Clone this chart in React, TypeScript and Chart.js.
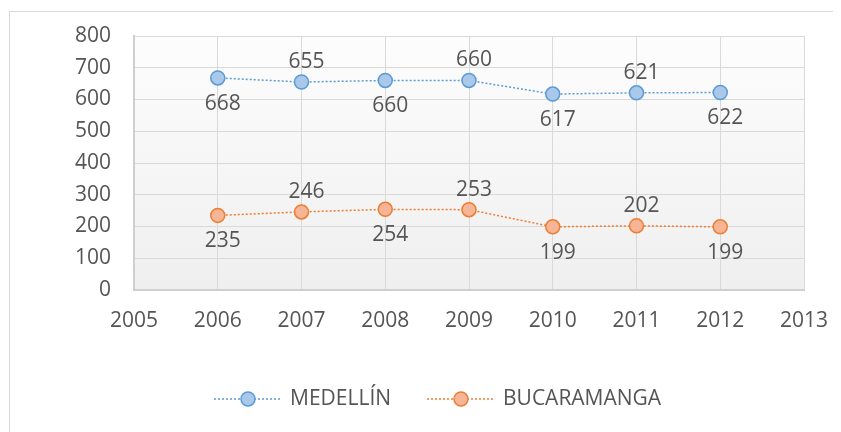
import React, { useEffect, useRef } from "react";
import { Chart, registerables } from "chart.js";

Chart.register(...registerables);

const years = [2006, 2007, 2008, 2009, 2010, 2011, 2012];
const medellin = [668, 655, 660, 660, 617, 621, 622];
const bucaramanga = [235, 246, 254, 253, 199, 202, 199];
const seriesNames = ["MEDELLÍN", "BUCARAMANGA"];
const xMin = 2005;
const xMax = 2013;
const yMin = 0;
const yMax = 800;
const yStep = 100;

const FONT = "'Open Sans', 'Noto Sans', sans-serif";
const FS = 21;
const TEXT = "#555555";
const BLUE = "#5B9BD5";
const BLUE_FILL = "#A9C8EA";
const ORANGE = "#ED7D31";
const ORANGE_FILL = "#F5B596";

const styles = [
  { line: BLUE, fill: BLUE_FILL },
  { line: ORANGE, fill: ORANGE_FILL },
];

const bgPlugin = {
  id: "bgPlugin",
  beforeDraw(chart: any) {
    const { ctx, chartArea, width, height } = chart;
    ctx.save();
    ctx.fillStyle = "#ffffff";
    ctx.fillRect(0, 0, width, height);
    ctx.strokeStyle = "#d9d9d9";
    ctx.lineWidth = 1;
    ctx.strokeRect(1.5, 3.5, width + 10, height + 10);
    const g = ctx.createLinearGradient(0, chartArea.top, 0, chartArea.bottom);
    g.addColorStop(0, "#fdfdfd");
    g.addColorStop(1, "#efefef");
    ctx.fillStyle = g;
    ctx.fillRect(chartArea.left, chartArea.top, chartArea.right - chartArea.left, chartArea.bottom - chartArea.top);
    ctx.restore();
  },
  afterDatasetsDraw(chart: any) {
    const { ctx } = chart;
    ctx.save();
    ctx.font = `${FS}px ${FONT}`;
    ctx.fillStyle = TEXT;
    ctx.textAlign = "center";
    ctx.textBaseline = "middle";
    chart.data.datasets.forEach((ds: any, di: number) => {
      const meta = chart.getDatasetMeta(di);
      meta.data.forEach((pt: any, i: number) => {
        const above = i % 2 === 1;
        const y = above ? pt.y - 20 : pt.y + 26;
        ctx.fillText(String(ds.data[i].y), pt.x + 5, y);
      });
    });
    // legend
    const cy = 391;
    const items = [
      { x: 206, label: seriesNames[0], s: styles[0] },
      { x: 419, label: seriesNames[1], s: styles[1] },
    ];
    items.forEach((it) => {
      ctx.strokeStyle = it.s.line;
      ctx.lineWidth = 1.5;
      ctx.setLineDash([2, 2]);
      ctx.beginPath();
      ctx.moveTo(it.x, cy);
      ctx.lineTo(it.x + 68, cy);
      ctx.stroke();
      ctx.setLineDash([]);
      ctx.beginPath();
      ctx.arc(it.x + 34, cy, 7, 0, Math.PI * 2);
      ctx.fillStyle = it.s.fill;
      ctx.fill();
      ctx.lineWidth = 1.5;
      ctx.strokeStyle = it.s.line;
      ctx.stroke();
      ctx.fillStyle = TEXT;
      ctx.textAlign = "left";
      ctx.fillText(it.label, it.x + 76, cy);
    });
    ctx.restore();
  },
};

export default function App() {
  const ref = useRef<HTMLCanvasElement>(null);
  useEffect(() => {
    if (!ref.current) return;
    const mk = (vals: number[], idx: number, label: string) => ({
      label,
      data: years.map((x, i) => ({ x, y: vals[i] })),
      borderColor: styles[idx].line,
      backgroundColor: styles[idx].fill,
      borderWidth: 1.5,
      borderDash: [2, 2],
      pointRadius: 7,
      pointBorderWidth: 1.5,
      pointBorderColor: styles[idx].line,
      pointBackgroundColor: styles[idx].fill,
      tension: 0,
    });
    const chart = new Chart(ref.current, {
      type: "line",
      data: {
        datasets: [mk(medellin, 0, seriesNames[0]), mk(bucaramanga, 1, seriesNames[1])],
      },
      options: {
        animation: false,
        responsive: false,
        maintainAspectRatio: false,
        devicePixelRatio: 1,
        layout: { padding: { left: 0, right: 37, top: 28, bottom: 0 } },
        plugins: { legend: { display: false }, tooltip: { enabled: false } },
        scales: {
          x: {
            type: "linear",
            min: xMin,
            max: xMax,
            ticks: {
              stepSize: 1,
              padding: 18,
              color: TEXT,
              font: { family: FONT, size: FS },
              callback: (v: any) => String(v),
            },
            grid: { color: "#d9d9d9", drawTicks: false, lineWidth: 1 },
            border: { color: "#cfcfcf", width: 2 },
            afterFit: (s: any) => {
              s.height = 142;
              s.paddingLeft = 0;
              s.paddingRight = 0;
            },
          },
          y: {
            min: yMin,
            max: yMax,
            ticks: {
              stepSize: yStep,
              padding: 23,
              color: TEXT,
              font: { family: FONT, size: FS },
            },
            grid: { color: "#d9d9d9", drawTicks: false, lineWidth: 1 },
            border: { color: "#cfcfcf", width: 2 },
            afterFit: (s: any) => {
              s.width = 126;
              s.paddingTop = 0;
              s.paddingBottom = 0;
            },
          },
        },
      },
      plugins: [bgPlugin],
    } as any);
    return () => chart.destroy();
  }, []);
  return (
    <div style={{ width: 833, height: 424 }}>
      <canvas ref={ref} width={833} height={424} style={{ display: "block" }} />
    </div>
  );
}
